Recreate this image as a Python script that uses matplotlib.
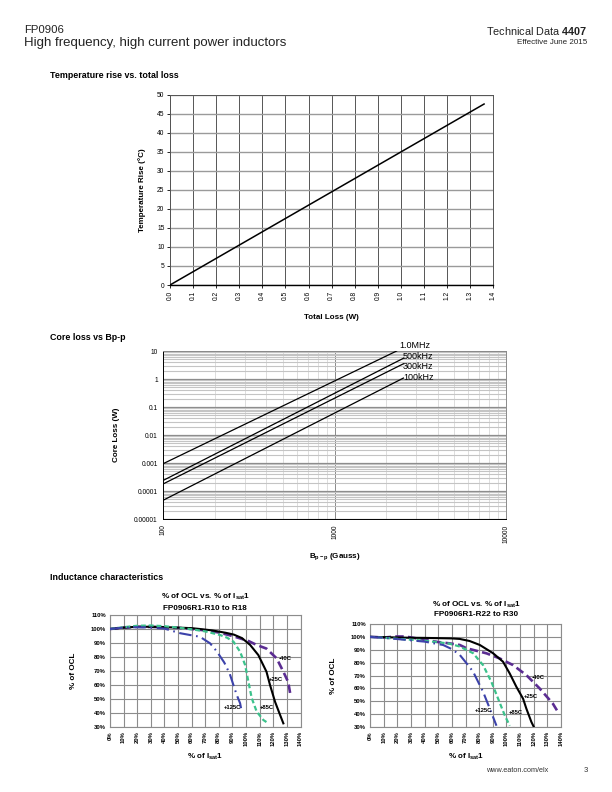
import matplotlib
matplotlib.use("Agg")
import matplotlib.pyplot as plt
import numpy as np

plt.rcParams['font.family'] = ['Liberation Sans', 'DejaVu Sans']
plt.rcParams['mathtext.fontset'] = 'custom'
plt.rcParams['mathtext.rm'] = 'Liberation Sans'
plt.rcParams['mathtext.bf'] = 'Liberation Sans:bold'
plt.rcParams['mathtext.it'] = 'Liberation Sans:italic'

# ---------------- data ----------------
# Temperature rise vs total loss
loss_w = [0.0, 1.36]
temp_rise = [0.0, 47.5]
loss_ticks = [0.0, 0.1, 0.2, 0.3, 0.4, 0.5, 0.6, 0.7, 0.8, 0.9, 1.0, 1.1, 1.2, 1.3, 1.4]
temp_ticks = [0, 5, 10, 15, 20, 25, 30, 35, 40, 45, 50]

# Core loss vs Bp-p (endpoints of straight log-log lines)
core_freqs = ["1.0MHz", "500kHz", "300kHz", "100kHz"]
core_b = {"1.0MHz": [100, 2300], "500kHz": [100, 2520], "300kHz": [100, 2520], "100kHz": [100, 2520]}
core_loss = {"1.0MHz": [0.00095, 10.0], "500kHz": [0.00024, 5.5], "300kHz": [0.00018, 3.5], "100kHz": [0.000047, 1.08]}
core_label_pos = {"1.0MHz": (2380, 16.0), "500kHz": (2500, 6.6), "300kHz": (2500, 2.9), "100kHz": (2500, 1.1)}
core_yticks = [1e-5, 1e-4, 1e-3, 1e-2, 1e-1, 1, 10]
core_yticklabels = ["0.00001", "0.0001", "0.001", "0.01", "0.1", "1", "10"]
core_xticks = [100, 1000, 10000]
core_xticklabels = ["100", "1000", "10000"]

# Inductance characteristics, R10 to R18
temps = ["-40C", "+25C", "+85C", "+125C"]
left_x = {
    "+25C": [0, 10, 20, 30, 40, 50, 60, 66, 75, 85, 91, 97, 103, 109, 115, 117.6, 121.3, 125, 127.4],
    "-40C": [0, 10, 20, 30, 40, 50, 60, 70, 80, 90, 95.6, 102, 107.8, 115, 122.5, 127.4, 131, 132.4],
    "+85C": [0, 10, 20, 30, 40, 50, 60, 70, 80.9, 86, 90.7, 95.6, 99.3, 101.7, 104.2, 107.8, 112.7, 116.4],
    "+125C": [0, 10, 20, 30, 40, 51.5, 60, 66, 73.5, 78.5, 84, 88, 90.7, 93.1, 95.6, 96.8],
}
left_y = {
    "+25C": [100, 101, 101.6, 101.6, 101.3, 101, 100.6, 100, 99, 97.3, 96, 93.5, 88.6, 81.4, 69.5, 60, 48, 38.6, 32.6],
    "-40C": [100, 101, 101.5, 101.5, 101.2, 100.8, 100, 99, 97.5, 95, 93.3, 91.3, 88.6, 86, 79, 69.5, 62, 54],
    "+85C": [100, 101.3, 102.3, 102.5, 102, 101, 99.8, 98.3, 95.7, 93.8, 91, 83.8, 74.3, 62.4, 50.5, 41, 35, 32.6],
    "+125C": [100, 101, 101.3, 101, 100.3, 97, 95.5, 94.5, 89.8, 84, 76, 68, 60, 53, 47, 41],
}
left_label_pos = {"-40C": (129, 79), "+25C": (122, 64), "+85C": (115, 44), "+125C": (90, 43.6)}

# Inductance characteristics, R22 to R30
right_x = {
    "+25C": [0, 10, 20, 30, 40, 50, 60, 65.8, 73, 80.5, 90.2, 97.5, 102.4, 107.3, 112.2, 114.6, 118.3, 120.7],
    "-40C": [0, 10, 19.5, 25, 30, 41.5, 50, 58, 65.8, 70.7, 85.4, 95, 104.8, 114.6, 124.3, 134, 137.8],
    "+85C": [0, 10, 20, 30, 40, 50, 58, 65.8, 75.6, 82.9, 89, 93.9, 98.8, 102.4],
    "+125C": [0, 10, 20, 30, 40, 53.6, 60, 65.8, 71.9, 75.6, 82.9, 87.8, 92.7],
}
right_y = {
    "+25C": [100, 99.8, 99.5, 99.3, 99.2, 99, 98.8, 98.4, 96.8, 93.7, 87.3, 80.7, 71.6, 61.2, 52, 44.3, 33.9, 28.7],
    "-40C": [100, 99.5, 100.3, 100.3, 99.6, 97.4, 96, 95, 93.7, 91.2, 87.2, 83.3, 78.1, 70.3, 60, 48.2, 41.6],
    "+85C": [100, 99.3, 98.5, 97.8, 97, 95.8, 94.8, 92.5, 87.3, 78, 65, 52, 39, 31],
    "+125C": [100, 99.3, 98.3, 97.3, 96.3, 93.7, 90.5, 86, 78, 72.9, 57.3, 44.3, 31],
}
right_label_pos = {"-40C": (123.6, 68.5), "+25C": (117.8, 53.4), "+85C": (106.8, 41), "+125C": (83.4, 43)}

ocl_xticks = list(range(0, 150, 10))
ocl_yticks = list(range(30, 120, 10))

# ---------------- styles ----------------
styles = {
    "+25C": dict(color="black", lw=1.5, linestyle="-"),
    "-40C": dict(color="#5B2D92", lw=1.9, linestyle=(0, (3.2, 1.6))),
    "+85C": dict(color="#3CC28C", lw=1.6, linestyle=(0, (2.2, 1.3))),
    "+125C": dict(color="#3C42AA", lw=1.5, linestyle=(0, (6, 2.2, 0.8, 2.2))),
}

W, H = 612, 792
fig = plt.figure(figsize=(W / 100, H / 100), dpi=100)


def rect(l, t, r, b):
    return [l / W, 1 - b / H, (r - l) / W, (b - t) / H]


def ftext(x, y, s, **kw):
    fig.text(x / W, 1 - y / H, s, **kw)


# header
ftext(24, 30, "FP0906", fontsize=8.2, color="#222", va="center")
ftext(24, 43, "High frequency, high current power inductors", fontsize=9.5, color="#222", va="center")
ftext(587, 31, r"Technical Data $\mathbf{4407}$", fontsize=7.8, color="#222", va="center", ha="right")
ftext(587, 42, "Effective June 2015", fontsize=5.8, color="#222", va="center", ha="right")
ftext(50, 75, "Temperature rise vs. total loss", fontsize=6.4, fontweight="bold", va="center")
ftext(50, 338, "Core loss vs Bp-p", fontsize=6.4, fontweight="bold", va="center")
ftext(50, 578, "Inductance characteristics", fontsize=6.4, fontweight="bold", va="center")
ftext(548, 771, "www.eaton.com/elx", fontsize=5.2, color="#333", va="center", ha="right")
ftext(584, 771, "3", fontsize=5.5, color="#333", va="center")

# ---------- chart 1 ----------
ax1 = fig.add_axes(rect(170, 94.5, 493.3, 285))
ax1.plot(loss_w, temp_rise, color="black", lw=1.1, zorder=3)
ax1.set_xlim(0, 1.4)
ax1.set_ylim(0, 50)
ax1.set_xticks(loss_ticks)
ax1.set_xticklabels([f"{v:.1f}" for v in loss_ticks], rotation=90)
ax1.set_yticks(temp_ticks)
ax1.xaxis.grid(True, color="#555555", lw=0.7)
ax1.yaxis.grid(True, color="#9a9a9a", lw=1.0)
ax1.tick_params(labelsize=4.8, length=2, width=0.6, pad=2)
for s in ax1.spines.values():
    s.set_color("#555555")
    s.set_linewidth(0.7)
ax1.spines["bottom"].set_color("black")
ax1.spines["bottom"].set_linewidth(1.0)
ax1.set_xlabel("Total Loss (W)", fontsize=5.8, fontweight="bold", labelpad=10)
ax1.set_ylabel("Temperature Rise (°C)", fontsize=5.8, fontweight="bold", labelpad=8)

# ---------- chart 2 ----------
ax2 = fig.add_axes(rect(163.3, 351, 506, 519))
for f in core_freqs:
    ax2.plot(core_b[f], core_loss[f], color="black", lw=0.9, zorder=3)
    x, y = core_label_pos[f]
    ax2.text(x, y, f, fontsize=6.5, va="center", ha="left", clip_on=False)
ax2.set_xscale("log")
ax2.set_yscale("log")
ax2.set_xlim(100, 10000)
ax2.set_ylim(1e-5, 10)
ax2.set_yticks(core_yticks)
ax2.set_yticklabels(core_yticklabels)
ax2.set_xticks(core_xticks)
ax2.set_xticklabels(core_xticklabels, rotation=90)
ax2.xaxis.grid(True, which="major", color="#8a8a8a", lw=0.7)
ax2.xaxis.grid(True, which="minor", color="#dddddd", lw=0.7)
ax2.yaxis.grid(True, which="major", color="#8a8a8a", lw=0.9)
ax2.yaxis.grid(True, which="minor", color="#c4c4c4", lw=0.8)
ax2.tick_params(which="major", labelsize=4.8, length=0, pad=4)
ax2.tick_params(which="minor", length=0)
for s in ax2.spines.values():
    s.set_color("#8a8a8a")
    s.set_linewidth(0.7)
ax2.spines["bottom"].set_color("black")
ax2.spines["left"].set_color("black")
ax2.set_xlabel(r"B$_{\mathbf{p-p}}$ (Gauss)", fontsize=5.8, fontweight="bold", labelpad=6)
ax2.set_ylabel("Core Loss (W)", fontsize=5.8, fontweight="bold", labelpad=10)


# ---------- chart 3/4 ----------
def ocl_chart(r, xs, ys, lpos):
    ax = fig.add_axes(r)
    for t in temps:
        ax.plot(xs[t], ys[t], zorder=3, **styles[t])
        lx, ly = lpos[t]
        ax.text(lx, ly, t, fontsize=4.2, fontweight="bold", ha="center", va="center", zorder=4)
    ax.set_xlim(0, 140)
    ax.set_ylim(30, 110)
    ax.set_xticks(ocl_xticks)
    ax.set_xticklabels([f"{v}%" for v in ocl_xticks], rotation=90, fontweight="bold")
    ax.set_yticks(ocl_yticks)
    ax.set_yticklabels([f"{v}%" for v in ocl_yticks], fontweight="bold")
    ax.grid(True, color="#8c8c8c", lw=0.8)
    ax.tick_params(labelsize=4.2, length=0, pad=3)
    for s in ax.spines.values():
        s.set_color("#8c8c8c")
        s.set_linewidth(0.8)
    ax.set_xlabel(r"% of I$_{\mathbf{sat}}$1", fontsize=5.8, fontweight="bold", labelpad=4)
    ax.set_ylabel("% of OCL", fontsize=5.8, fontweight="bold", labelpad=10)
    return ax


ocl_chart(rect(110, 615, 300.5, 727), left_x, left_y, left_label_pos)
ocl_chart(rect(370, 624, 561, 727), right_x, right_y, right_label_pos)

ftext(205, 597, r"% of OCL vs. % of I$_{\mathbf{sat}}$1", fontsize=5.9, fontweight="bold", ha="center", va="center")
ftext(205, 608, "FP0906R1-R10 to R18", fontsize=5.9, fontweight="bold", ha="center", va="center")
ftext(476, 605, r"% of OCL vs. % of I$_{\mathbf{sat}}$1", fontsize=5.9, fontweight="bold", ha="center", va="center")
ftext(476, 615, "FP0906R1-R22 to R30", fontsize=5.9, fontweight="bold", ha="center", va="center")

fig.savefig("out.png", dpi=100)
